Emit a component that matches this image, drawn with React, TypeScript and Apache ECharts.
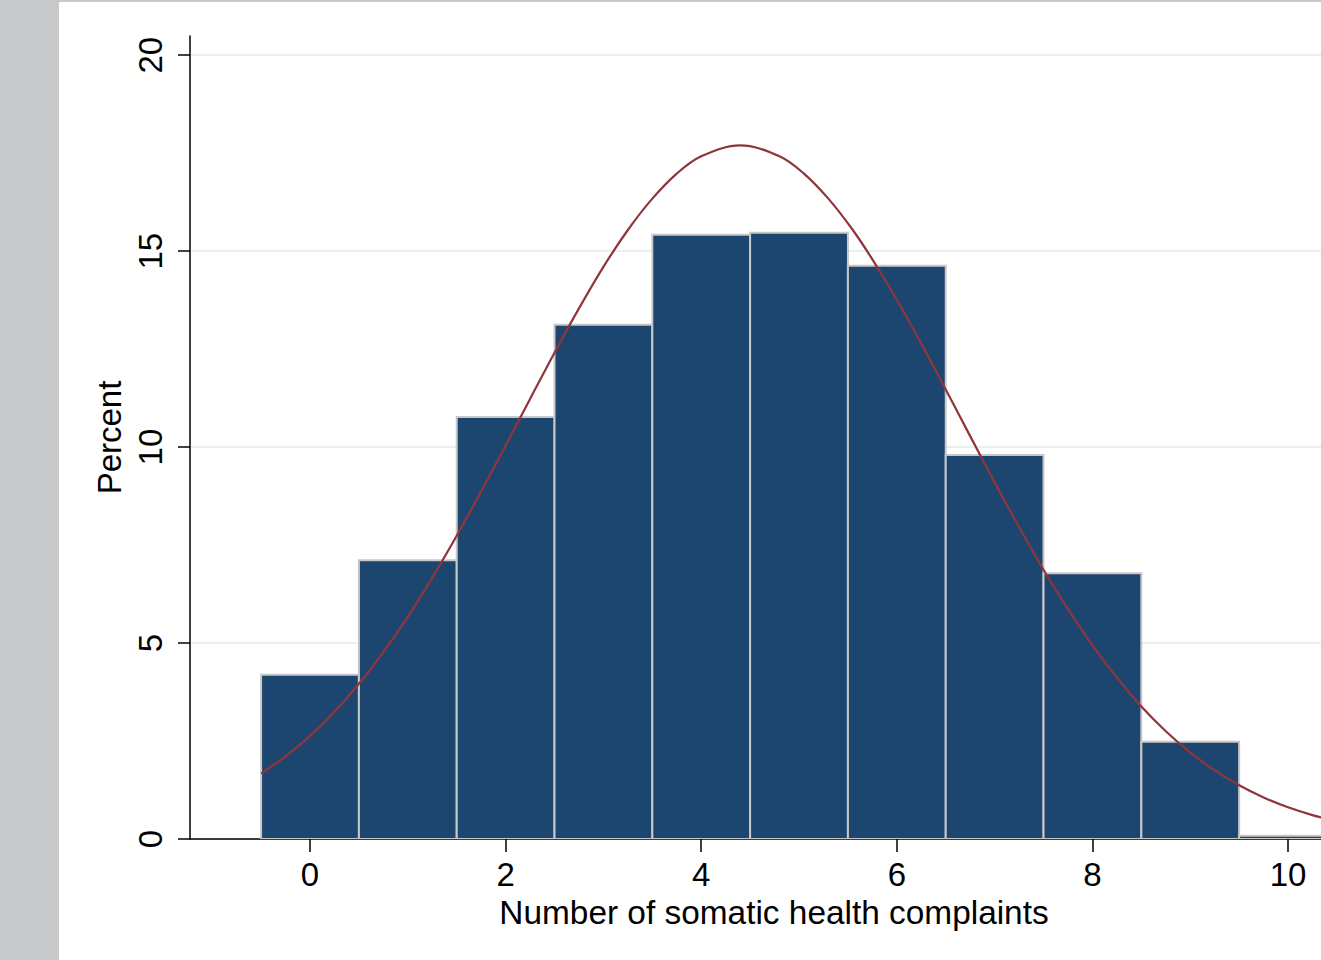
import React, { useEffect, useRef } from "react";
import * as echarts from "echarts";

const complaints = [0, 1, 2, 3, 4, 5, 6, 7, 8, 9, 10];
const percents = [4.19, 7.11, 10.77, 13.12, 15.42, 15.47, 14.63, 9.8, 6.78, 2.48, 0.08];
const curveX = [-0.5, -0.25, 0, 0.25, 0.5, 0.75, 1, 1.25, 1.5, 1.75, 2, 2.25, 2.5, 2.75, 3, 3.25, 3.5, 3.75, 4, 4.4, 4.8, 5.05, 5.3, 5.55, 5.75, 6, 6.25, 6.5, 6.75, 7, 7.25, 7.5, 7.75, 8, 8.25, 8.5, 8.75, 9, 9.25, 9.5, 9.75, 10, 10.25, 10.5];
const curveY = [1.67, 2.11, 2.63, 3.25, 3.96, 4.77, 5.67, 6.67, 7.74, 8.87, 10.04, 11.23, 12.41, 13.54, 14.6, 15.54, 16.34, 16.98, 17.42, 17.7, 17.42, 16.98, 16.34, 15.54, 14.79, 13.76, 12.64, 11.47, 10.28, 9.1, 7.96, 6.87, 5.87, 4.94, 4.12, 3.38, 2.75, 2.21, 1.75, 1.37, 1.06, 0.81, 0.61, 0.45];
const xTicks = [0, 2, 4, 6, 8, 10];
const yTicks = [0, 5, 10, 15, 20];

const FONT = "Liberation Sans, Arial, Helvetica, sans-serif";
const FS = 33;

export default function App() {
  const ref = useRef<HTMLDivElement>(null);
  useEffect(() => {
    if (!ref.current) return;
    const chart = echarts.init(ref.current, undefined, { renderer: "svg" });
    chart.setOption({
      animation: false,
      backgroundColor: "#ffffff",
      grid: { left: 190, right: 0, top: 36, bottom: 121, containLabel: false },
      xAxis: {
        type: "value",
        min: -1.227,
        max: 10.337,
        axisLine: { show: true, onZero: false, lineStyle: { color: "#000", width: 1.5 } },
        axisTick: { show: true, length: 13, customValues: xTicks, lineStyle: { color: "#000", width: 1.5 } },
        axisLabel: { customValues: xTicks, margin: 19, fontSize: FS, color: "#000", fontFamily: FONT },
        splitLine: { show: false },
      },
      yAxis: {
        type: "value",
        min: 0,
        max: 20.49,
        name: "Percent",
        nameLocation: "middle",
        nameRotate: 90,
        nameGap: 57,
        nameTextStyle: { fontSize: FS, color: "#000", fontFamily: FONT },
        axisLine: { show: true, onZero: false, lineStyle: { color: "#000", width: 1.5 } },
        axisTick: { show: true, length: 12, customValues: yTicks, lineStyle: { color: "#000", width: 1.5 } },
        axisLabel: { customValues: yTicks, rotate: 90, margin: 23, fontSize: FS, color: "#000", fontFamily: FONT },
        splitLine: { show: true, customValues: yTicks, lineStyle: { color: "#e8f0f1", width: 2 } },
      },
      graphic: [
        { type: "rect", left: 0, top: 0, shape: { width: 59, height: 960 }, style: { fill: "#c8c9cb" }, z: 100 },
        { type: "rect", left: 0, top: 0, shape: { width: 1321, height: 2 }, style: { fill: "#c8c9cb" }, z: 100 },
        {
          type: "text",
          x: 774,
          y: 912,
          style: {
            text: "Number of somatic health complaints",
            fontSize: 33.4,
            fontFamily: FONT,
            fill: "#000",
            textAlign: "center",
            textVerticalAlign: "middle",
          },
        },
      ],
      series: [
        {
          type: "custom",
          clip: true,
          data: complaints.map((c, i) => [c, percents[i]]),
          renderItem: (params: any, api: any) => {
            const x = api.value(0);
            const v = api.value(1);
            const p0 = api.coord([x - 0.5, v]);
            const p1 = api.coord([x + 0.5, 0]);
            return {
              type: "rect",
              shape: { x: p0[0], y: p0[1], width: p1[0] - p0[0], height: p1[1] - p0[1] },
              style: { fill: "#1c466f", stroke: "#c8c8c8", lineWidth: 2 },
            };
          },
          z: 2,
        },
        {
          type: "line",
          data: curveX.map((x, i) => [x, curveY[i]]),
          smooth: 0.35,
          symbol: "none",
          clip: true,
          lineStyle: { color: "#90353b", width: 2.2 },
          z: 3,
        },
      ],
    });
    return () => chart.dispose();
  }, []);
  return (
    <div
      ref={ref}
      style={{ position: "absolute", left: 0, top: 0, width: 1321, height: 960 }}
    />
  );
}
